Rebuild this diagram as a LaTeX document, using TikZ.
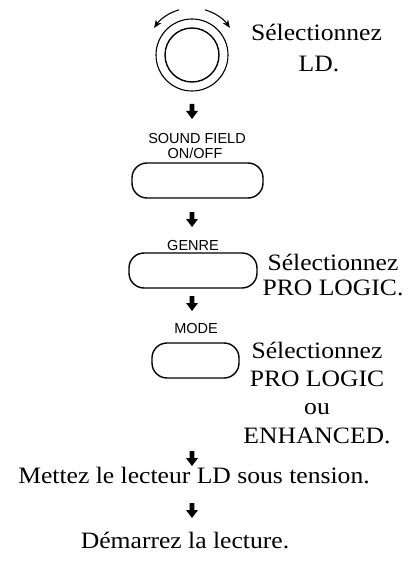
\documentclass[tikz,border=0pt]{standalone}
\usepackage{fontspec}
\setmainfont{Liberation Serif}[FakeStretch=1.09]
\newfontfamily\labelfont{Liberation Sans}
\usetikzlibrary{arrows.meta}
\begin{document}
\begin{tikzpicture}[x=1pt,y=-1pt,
  btn/.style={draw, line width=1.4pt, rounded corners=15pt, minimum height=35pt, inner sep=0pt},
  lbl/.style={font=\labelfont\fontsize{14.5}{14.5}\selectfont, anchor=base, inner sep=0pt},
  txt/.style={font=\fontsize{23.5}{23.5}\selectfont, anchor=base, inner sep=0pt},
  pics/downarrow/.style={code={\fill (-2.3,0) -- (2.3,0) -- (2.3,7) -- (6,7) -- (0,15) -- (-6,7) -- (-2.3,7) -- cycle;}},
  turn/.style={line width=1.1pt, -{Stealth[length=8pt,width=6.5pt]}}
]
\useasboundingbox (0,0) rectangle (408,567);
% knob
\node[circle, draw, line width=1.4pt, minimum size=54pt, inner sep=0pt] (knobin) at (192,55) {};
\node[circle, draw, line width=1.1pt, minimum size=72pt, inner sep=0pt] (knobout) at (192,55) {};
\draw[turn] (knobin.center) ++(-106:47) arc[start angle=-106, end angle=-146, radius=45];
\draw[turn] (knobin.center) ++(-74:47) arc[start angle=-74, end angle=-34, radius=45];
\node[txt] (t1a) at (316.5,41) {Sélectionnez};
\node[txt] (t1b) at (319,72) {LD.};
% arrow 1
\pic (a1) at (192,104) {downarrow};
% sound field
\node[lbl] (l1a) at (197,143) {SOUND FIELD};
\node[lbl] (l1b) at (195,158) {ON/OFF};
\node[btn, minimum width=131pt] (b1) at (197.5,180.5) {};
\pic (a2) at (192,212) {downarrow};
% genre
\node[lbl] (l2) at (193,250) {GENRE};
\node[btn, minimum width=128pt] (b2) at (193,270.5) {};
\node[txt] (t2a) at (333,270) {Sélectionnez};
\node[txt] (t2b) at (333,295) {PRO LOGIC.};
\pic (a3) at (192,296) {downarrow};
% mode
\node[lbl] (l3) at (196,333) {MODE};
\node[btn, minimum width=87pt] (b3) at (195.5,360.5) {};
\node[txt] (t3a) at (317,358) {Sélectionnez};
\node[txt] (t3b) at (317,386) {PRO LOGIC};
\node[txt] (t3c) at (317,414) {ou};
\node[txt] (t3d) at (317,443) {ENHANCED.};
\pic (a4) at (192,451) {downarrow};
\node[txt] (t4) at (194,483) {Mettez le lecteur LD sous tension.};
\pic (a5) at (192,503) {downarrow};
\node[txt] (t5) at (185,548) {Démarrez la lecture.};
\end{tikzpicture}
\end{document}
